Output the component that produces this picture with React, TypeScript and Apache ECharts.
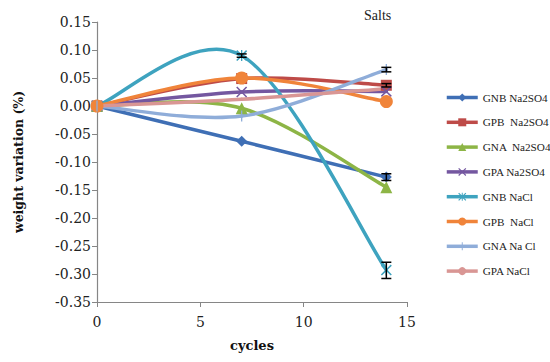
import React, { useEffect, useRef } from "react";
import * as echarts from "echarts";

const cycles = [0, 7, 14];
const seriesNames = [
  "GNB Na2SO4",
  "GPB  Na2SO4",
  "GNA  Na2SO4",
  "GPA Na2SO4",
  "GNB NaCl",
  "GPB  NaCl",
  "GNA Na Cl",
  "GPA NaCl",
];
const gnbNa2so4 = [0, -0.063, -0.127];
const gpbNa2so4 = [0, 0.049, 0.037];
const gnaNa2so4 = [0, -0.004, -0.145];
const gpaNa2so4 = [0, 0.025, 0.026];
const gnbNacl = [0, 0.09, -0.293];
const gpbNacl = [0, 0.05, 0.008];
const gnaNacl = [0, -0.018, 0.065];
const gpaNacl = [0, 0.012, 0.031];
const seriesValues = [gnbNa2so4, gpbNa2so4, gnaNa2so4, gpaNa2so4, gnbNacl, gpbNacl, gnaNacl, gpaNacl];
// error bars: [cycle, low, high]
const errorBars = [
  [14, -0.308, -0.279],
  [14, -0.133, -0.121],
  [14, 0.061, 0.069],
  [7, 0.087, 0.093],
  [14, 0.034, 0.04],
];
const yTicks = [-0.35, 0.15, 0.05];
const xTicks = [0, 15, 5];

const colors = ["#3F6FB5", "#BE4B48", "#8DB546", "#7457A0", "#3EA3BF", "#F0843A", "#8FADD9", "#D99694"];
const xShape = "path://M1,0L5,4L9,0L10,1L6,5L10,9L9,10L5,6L1,10L0,9L4,5L0,1Z";
const starShape =
  "path://M1,0L5,4L9,0L10,1L6,5L10,9L9,10L5,6L1,10L0,9L4,5L0,1Z M4.4,0L5.6,0L5.6,10L4.4,10Z";
const plusShape = "path://M0,0L0.01,0L0.01,0.01Z M4.4,0L5.6,0L5.6,10L4.4,10Z M10,10L9.99,10L9.99,9.99Z";
const symbols: any[] = ["diamond", "rect", "triangle", xShape, starShape, "circle", plusShape, "none"];
const symbolSizes: any[] = [11, 11, 12, 11, 11, 13, 11, 0];

export default function App() {
  const ref = useRef<HTMLDivElement>(null);
  useEffect(() => {
    document.body.style.margin = "0";
    const chart = echarts.init(ref.current!, null, { renderer: "svg" });
    const lw = 3.5;
    const curveSeries = seriesNames.map((name, i) => ({
      type: "custom",
      name: name + "_curve",
      data: cycles.map((c, j) => [c, seriesValues[i][j]]),
      z: 2,
      silent: true,
      renderItem: (params: any, api: any) => {
        const k = params.dataIndex;
        const vals = seriesValues[i];
        const n = vals.length;
        if (k >= n - 1) return { type: "group", children: [] };
        const p = (j: number) => {
          const jj = Math.max(0, Math.min(n - 1, j));
          return api.coord([cycles[jj], vals[jj]]);
        };
        const p0 = p(k - 1), p1 = p(k), p2 = p(k + 1), p3 = p(k + 2);
        const c1x = p1[0] + (p2[0] - p0[0]) / 6;
        const c1y = p1[1] + (p2[1] - p0[1]) / 6;
        const c2x = p2[0] - (p3[0] - p1[0]) / 6;
        const c2y = p2[1] - (p3[1] - p1[1]) / 6;
        return {
          type: "bezierCurve",
          z2: i,
          shape: { x1: p1[0], y1: p1[1], x2: p2[0], y2: p2[1], cpx1: c1x, cpy1: c1y, cpx2: c2x, cpy2: c2y },
          style: { stroke: colors[i], lineWidth: lw, fill: "none", lineCap: "round" },
        };
      },
    }));
    const lineSeries = seriesNames.map((name, i) => ({
      name,
      type: "line",
      data: cycles.map((c, j) => [c, seriesValues[i][j]]),
      symbol: symbols[i],
      symbolSize: symbolSizes[i],
      showSymbol: symbols[i] !== "none",
      lineStyle: { width: lw, color: colors[i], opacity: 0 },
      itemStyle: { color: colors[i] },
      z: 3,
    }));
    const errSeries = {
      type: "custom",
      name: "err",
      data: errorBars,
      z: 20,
      renderItem: (params: any, api: any) => {
        const x = api.value(0);
        const lo = api.coord([x, api.value(1)]);
        const hi = api.coord([x, api.value(2)]);
        const w = 5;
        const style = { stroke: "#000", lineWidth: 1.5 };
        return {
          type: "group",
          children: [
            { type: "line", shape: { x1: lo[0], y1: lo[1], x2: hi[0], y2: hi[1] }, style },
            { type: "line", shape: { x1: lo[0] - w, y1: lo[1], x2: lo[0] + w, y2: lo[1] }, style },
            { type: "line", shape: { x1: hi[0] - w, y1: hi[1], x2: hi[0] + w, y2: hi[1] }, style },
          ],
        };
      },
    };
    const axisLine = { lineStyle: { color: "#868686", width: 1.2 } };
    chart.setOption({
      animation: false,
      backgroundColor: "#fff",
      title: {
        text: "Salts",
        left: 359,
        top: 3,
        textStyle: { fontFamily: "Liberation Serif", fontSize: 14, fontWeight: "normal", color: "#222" },
      },
      legend: {
        data: seriesNames.map((name, i) => ({
          name,
          lineStyle: { opacity: 1, width: 3.5, color: colors[i] },
        })),
        orient: "vertical",
        left: 440,
        top: 87,
        itemWidth: 31,
        itemHeight: 10,
        itemGap: 13.8,
        textStyle: { fontFamily: "Liberation Serif", fontSize: 11.2, color: "#222" },
      },
      grid: { left: 97, right: 143, top: 22, bottom: 60, containLabel: false },
      xAxis: {
        type: "value",
        min: xTicks[0],
        max: xTicks[1],
        interval: xTicks[2],
        name: "cycles",
        nameLocation: "middle",
        nameGap: 37,
        nameTextStyle: { fontFamily: "DejaVu Serif", fontWeight: "bold", fontSize: 13, color: "#111" },
        axisLine: { ...axisLine, onZero: false },
        axisTick: { show: true, length: 5, lineStyle: { color: "#868686" } },
        splitLine: { show: false },
        axisLabel: { fontFamily: "DejaVu Serif", fontSize: 14, color: "#222", margin: 13 },
      },
      yAxis: {
        type: "value",
        min: yTicks[0],
        max: yTicks[1],
        interval: yTicks[2],
        name: "weight variation (%)",
        nameLocation: "middle",
        nameGap: 72,
        nameTextStyle: { fontFamily: "DejaVu Serif", fontWeight: "bold", fontSize: 12.5, color: "#111" },
        axisLine: { ...axisLine, show: true },
        axisTick: { show: true, length: 5, lineStyle: { color: "#868686" } },
        splitLine: { show: false },
        axisLabel: {
          fontFamily: "DejaVu Serif",
          fontSize: 14,
          color: "#222",
          margin: 6,
          formatter: (v: number) => v.toFixed(2),
        },
      },
      series: [...curveSeries, ...lineSeries, errSeries],
    });
    return () => chart.dispose();
  }, []);
  return <div ref={ref} style={{ width: 550, height: 362 }} />;
}
